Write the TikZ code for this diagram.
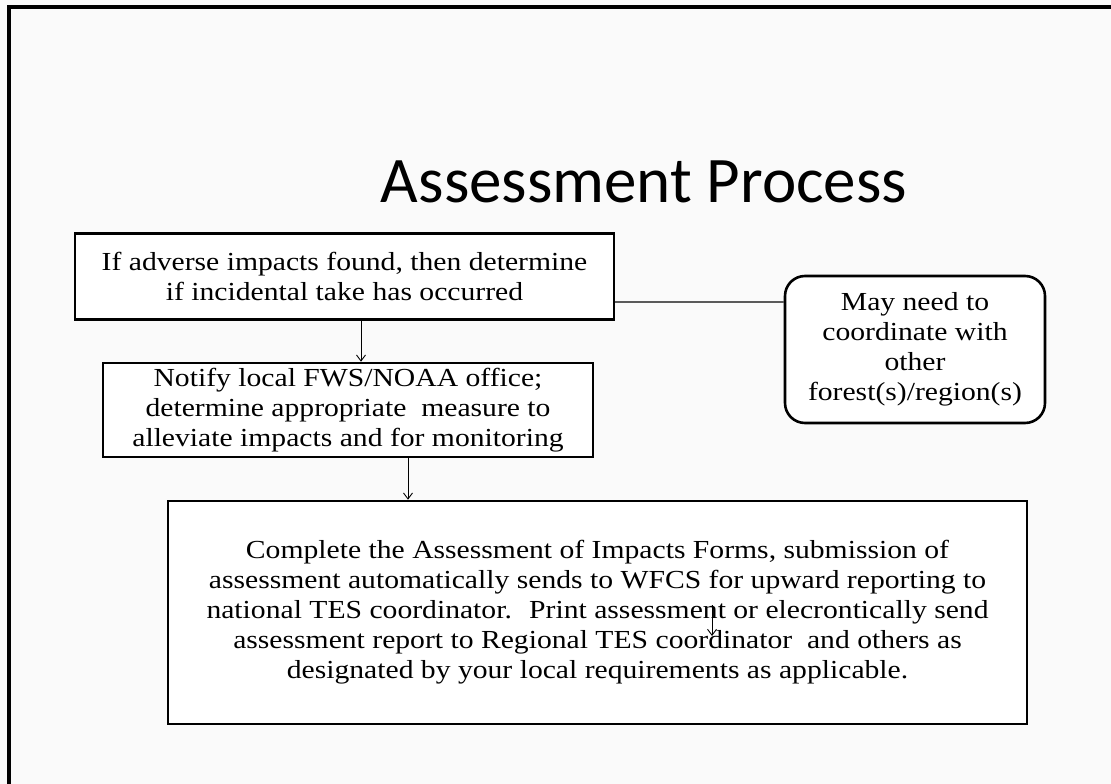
\documentclass[tikz,border=0pt]{standalone}
\usepackage{fontspec}
\setmainfont[FakeStretch=1.14]{Liberation Serif}
\newfontfamily\titlefont{Carlito}
\usetikzlibrary{arrows.meta}
\definecolor{bgcol}{RGB}{250,250,250}
\definecolor{linkcol}{RGB}{90,90,90}
\begin{document}
\begin{tikzpicture}[x=1pt,y=-1pt,
  boxtext/.style={font=\fontsize{26}{30}\selectfont, align=center, inner sep=0pt},
  sqbox/.style={boxtext, draw=black, line width=2.6pt, fill=white},
  rbox/.style={sqbox, rounded corners=20pt},
  arr/.style={draw=black, line width=0.9pt, -{Straight Barb[length=6pt,width=9pt]}},
  link/.style={draw=linkcol, line width=1.2pt}]
\useasboundingbox (0,0) rectangle (1111,784);
\fill[bgcol] (0,0) rectangle (1111,784);
\draw[line width=4pt, line join=miter] (9,784) -- (9,7) -- (1111,7);

\node[anchor=base, inner sep=0pt, font=\titlefont\fontsize{65}{70}\selectfont] (title) at (644,202) {Assessment Process};

\node[sqbox, minimum width=539pt, minimum height=86pt] (b1) at (344.5,276.5)
  {If adverse impacts found, then determine\\if incidental take has occurred};
\node[sqbox, minimum width=490pt, minimum height=94pt] (b2) at (348,410)
  {Notify local FWS/NOAA office;\\determine appropriate~ measure to\\alleviate impacts and for monitoring};
\node[rbox, minimum width=260pt, minimum height=147pt] (r1) at (915,349.5)
  {May need to\\coordinate with\\other\\forest(s)/region(s)};
\node[sqbox, minimum width=859pt, minimum height=223pt] (b3) at (597.5,612.5)
  {Complete the Assessment of Impacts Forms, submission of\\assessment automatically sends to WFCS for upward reporting to\\national TES coordinator.~ Print assessment or elecrontically send\\assessment report to Regional TES coordinator~ and others as\\designated by your local requirements as applicable.};

\coordinate (a1) at (361,0);
\coordinate (a2) at (408,0);
\coordinate (ly) at (0,302);
\coordinate (s1) at (712,605);
\coordinate (s2) at (712,636);

\draw[link] (b1.east |- ly) -- (r1.west |- ly);
\draw[arr] (a1 |- b1.south) -- (a1 |- b2.north);
\draw[arr] (a2 |- b2.south) -- (a2 |- b3.north);
\draw[arr] (s1) -- (s2);
\end{tikzpicture}
\end{document}
